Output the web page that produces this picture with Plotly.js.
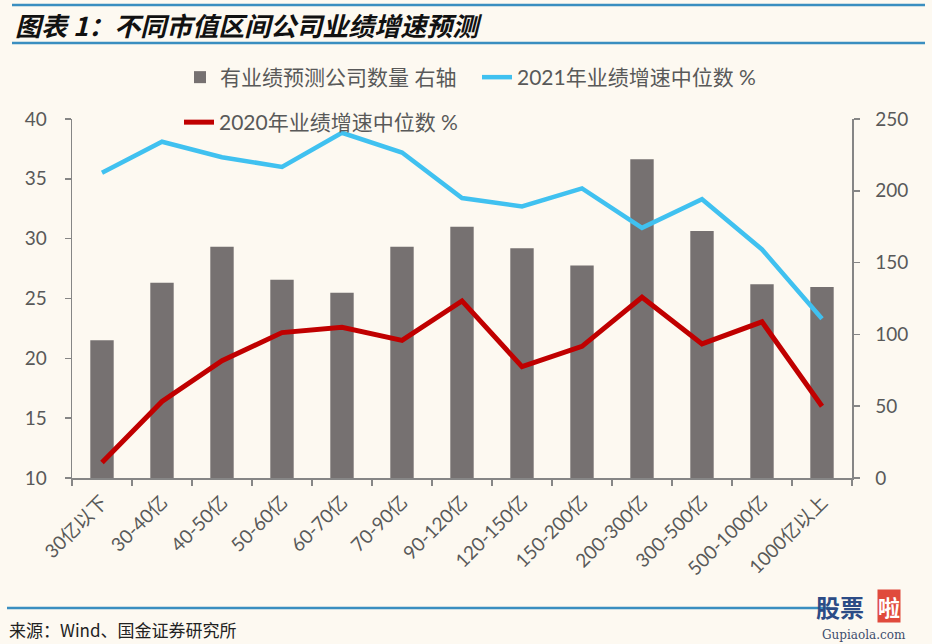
<!DOCTYPE html>
<html>
<head>
<meta charset="utf-8">
<script src="https://cdn.plot.ly/plotly-3.0.1.min.js"></script>
<style>
  html, body { margin: 0; padding: 0; background: #FDF9F1; }
  #chart { width: 932px; height: 644px; }
</style>
</head>
<body>
<div id="chart"></div>
<script>
// ---- data ----
const categories = ["30亿以下", "30-40亿", "40-50亿", "50-60亿", "60-70亿", "70-90亿", "90-120亿",
  "120-150亿", "150-200亿", "200-300亿", "300-500亿", "500-1000亿", "1000亿以上"];
const companyCount = [96, 136, 161, 138, 129, 161, 175, 160, 148, 222, 172, 135, 133];
const growth2021 = [35.5, 38.1, 36.8, 36.0, 38.85, 37.2, 33.4, 32.7, 34.2, 30.9, 33.3, 29.1, 23.3];
const growth2020 = [11.3, 16.4, 19.8, 22.15, 22.6, 21.5, 24.8, 19.3, 21.0, 25.1, 21.2, 23.05, 16.0];

const seriesNames = {
  count: "有业绩预测公司数量 右轴",
  g2021: "2021年业绩增速中位数 %",
  g2020: "2020年业绩增速中位数 %"
};

// ---- geometry helpers (pixel -> paper) ----
const PL = 72, PR = 852, PT = 119, PB = 478;
const px = x => (x - PL) / (PR - PL);
const py = y => (PB - y) / (PB - PT);

const FONT = 'Lato, "Noto Sans CJK SC", sans-serif';
const GREY = '#595959';
const AXIS = '#868686';

const traces = [
  {
    type: 'bar', x: categories, y: companyCount, name: seriesNames.count,
    yaxis: 'y', marker: { color: '#767171' }, width: 0.39, legend: 'legend'
  },
  {
    type: 'scatter', mode: 'lines', x: categories, y: growth2021, name: seriesNames.g2021,
    yaxis: 'y2', line: { color: '#40C1F0', width: 4.5 }, legend: 'legend'
  },
  {
    type: 'scatter', mode: 'lines', x: categories, y: growth2020, name: seriesNames.g2020,
    yaxis: 'y2', line: { color: '#C00000', width: 5 }, legend: 'legend2'
  }
];

const layout = {
  width: 932, height: 644,
  margin: { l: PL, r: 932 - PR, t: PT, b: 644 - PB },
  paper_bgcolor: '#FDF9F1', plot_bgcolor: '#FDF9F1',
  font: { family: FONT, color: GREY, size: 18 },
  showlegend: true,
  legend: {
    orientation: 'h', x: px(180), xanchor: 'left', y: py(57), yanchor: 'top',
    entrywidth: 252, entrywidthmode: 'pixels',
    font: { family: FONT, size: 21, color: GREY }, bgcolor: 'rgba(0,0,0,0)'
  },
  legend2: {
    orientation: 'h', x: px(179), xanchor: 'left', y: py(102), yanchor: 'top',
    font: { family: FONT, size: 21, color: GREY }, bgcolor: 'rgba(0,0,0,0)'
  },
  xaxis: {
    type: 'category', categoryorder: 'array', categoryarray: categories,
    range: [-0.5, 12.5], showgrid: false, zeroline: false,
    showline: true, linecolor: AXIS, linewidth: 1.5,
    ticks: 'outside', tickson: 'boundaries', ticklen: 6, tickcolor: AXIS, tickwidth: 1.5,
    ticklabelstandoff: 4,
    tickangle: -45, tickfont: { family: FONT, size: 19, color: GREY }
  },
  yaxis: {
    side: 'right', range: [0, 250], dtick: 50, showgrid: false, zeroline: false,
    showline: true, linecolor: AXIS, linewidth: 1.5,
    ticks: 'outside', ticklen: 6, tickcolor: AXIS, tickwidth: 1.5, ticklabelstandoff: 12,
    tickfont: { family: FONT, size: 19, color: GREY }
  },
  yaxis2: {
    overlaying: 'y', side: 'left', range: [10, 40], dtick: 5, showgrid: false, zeroline: false,
    showline: true, linecolor: AXIS, linewidth: 1.5,
    ticks: 'outside', ticklen: 6, tickcolor: AXIS, tickwidth: 1.5, ticklabelstandoff: 14,
    tickfont: { family: FONT, size: 19, color: GREY }
  },
  shapes: [
    { type: 'line', xref: 'paper', yref: 'paper', x0: px(12), x1: px(925), y0: py(5), y1: py(5),
      line: { color: '#3A8EC0', width: 2.5 } },
    { type: 'line', xref: 'paper', yref: 'paper', x0: px(12), x1: px(925), y0: py(43), y1: py(43),
      line: { color: '#3A8EC0', width: 2.5 } },
    { type: 'line', xref: 'paper', yref: 'paper', x0: px(7), x1: px(830), y0: py(608), y1: py(608),
      line: { color: '#3A8EC0', width: 2.5 } }
  ],
  annotations: [
    { xref: 'paper', yref: 'paper', x: px(13), y: py(25), xanchor: 'left', yanchor: 'middle',
      showarrow: false, text: '<b><i>图表 1：不同市值区间公司业绩增速预测</i></b>',
      font: { family: '"Noto Sans CJK SC", sans-serif', size: 26, color: '#111111' } },
    { xref: 'paper', yref: 'paper', x: px(7), y: py(629), xanchor: 'left', yanchor: 'middle',
      showarrow: false, text: '来源：Wind、国金证券研究所',
      font: { family: '"Noto Sans CJK SC", sans-serif', size: 17, color: '#222222' } },
    { xref: 'paper', yref: 'paper', x: px(840), y: py(606), xanchor: 'center', yanchor: 'middle',
      showarrow: false, text: '<b>股票</b>',
      font: { family: '"Noto Sans CJK SC", sans-serif', size: 24, color: '#2C4C86' } },
    { xref: 'paper', yref: 'paper', x: px(889), y: py(606), xanchor: 'center', yanchor: 'middle',
      showarrow: false, text: '<b>啦</b>', bgcolor: '#E04A3C', borderpad: 0,
      font: { family: '"Noto Sans CJK SC", sans-serif', size: 22, color: '#FFFFFF' } },
    { xref: 'paper', yref: 'paper', x: px(864), y: py(635), xanchor: 'center', yanchor: 'middle',
      showarrow: false, text: 'Gupiaola.com',
      font: { family: '"DejaVu Serif", serif', size: 12, color: '#3E4E6E' } }
  ]
};

Plotly.newPlot('chart', traces, layout, { displayModeBar: false, staticPlot: true });
</script>
</body>
</html>
